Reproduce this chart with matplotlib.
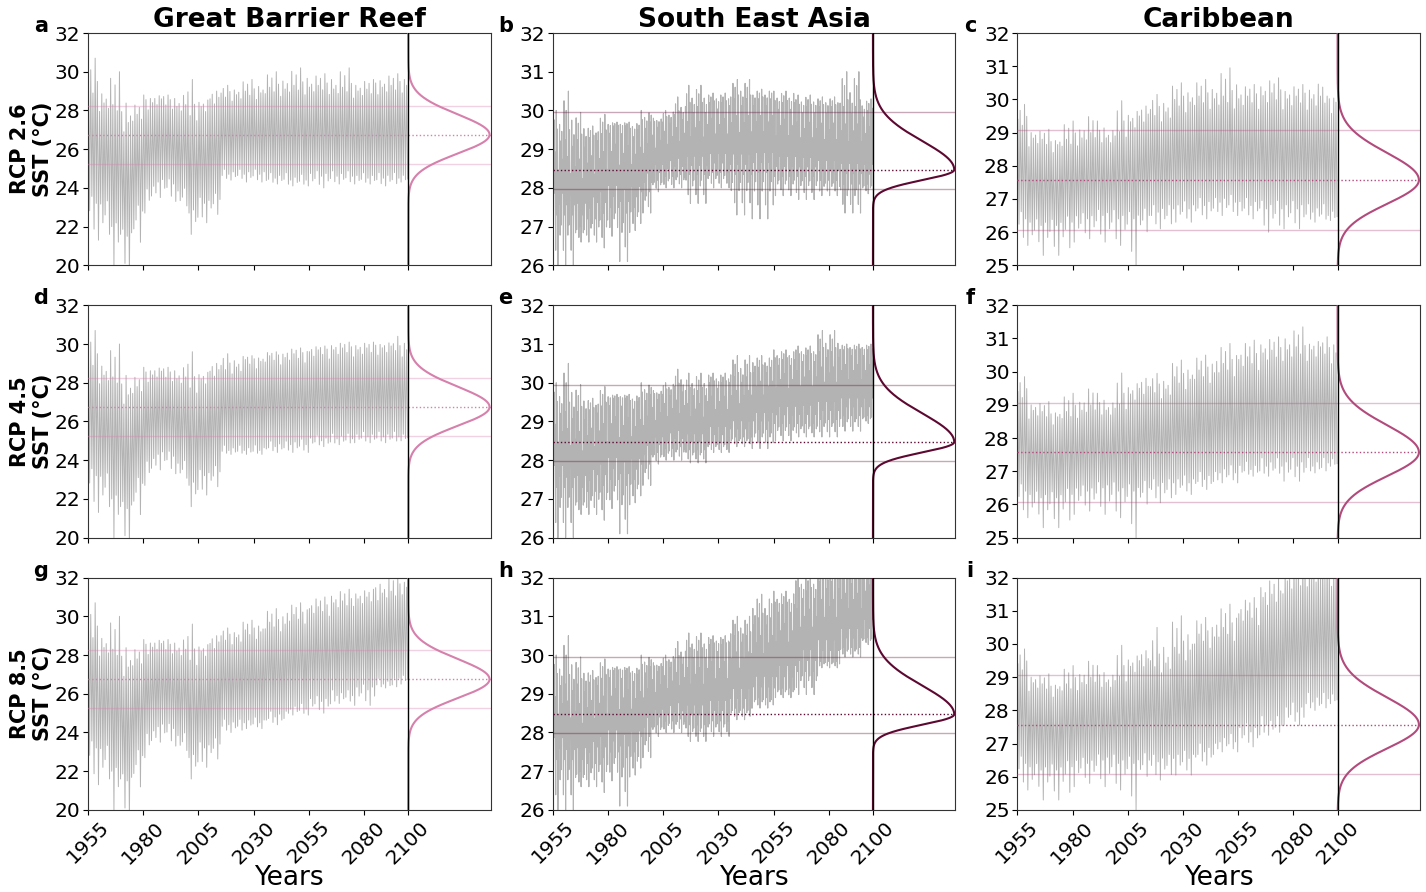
import numpy as np
import matplotlib
matplotlib.use("Agg")
import matplotlib.pyplot as plt

# ---- data ---------------------------------------------------------------
regions = ["Great Barrier Reef", "South East Asia", "Caribbean"]
scenarios = ["RCP 2.6", "RCP 4.5", "RCP 8.5"]
letters = ["a", "b", "c", "d", "e", "f", "g", "h", "i"]

# historical part (same in every scenario), 5-year blocks 1955..2010
hist_starts = [1955, 1960, 1965, 1970, 1975, 1980, 1985, 1990, 1995, 2000, 2005, 2010]
# projections, 10-year blocks 2015..2095
fut_starts = [2015, 2025, 2035, 2045, 2055, 2065, 2075, 2085, 2095]

# typical seasonal peak, highest spike, typical trough, deepest dip (deg C)
gbr_hist_peak   = [29.2, 28.5, 28.3, 27.5, 27.8, 28.5, 28.6, 28.5, 28.3, 28.0, 28.3, 28.6]
gbr_hist_spike  = [30.7, 29.4, 30.0, 29.7, 28.4, 28.8, 28.8, 28.8, 28.9, 29.6, 28.6, 29.0]
gbr_hist_trough = [23.2, 23.0, 22.0, 21.5, 22.8, 23.8, 24.3, 24.2, 23.7, 22.7, 23.2, 23.4]
gbr_hist_dip    = [21.3, 21.0, 20.0, 19.5, 20.5, 22.7, 23.5, 23.3, 22.8, 21.6, 22.2, 22.3]

sea_hist_peak   = [29.4, 29.25, 29.25, 29.3, 29.4, 29.6, 29.6, 29.5, 29.7, 29.7, 29.8, 29.9]
sea_hist_spike  = [30.0, 30.5, 29.95, 29.6, 29.9, 29.7, 29.7, 29.7, 30.0, 29.8, 30.0, 30.35]
sea_hist_trough = [27.3, 27.3, 27.0, 27.2, 27.35, 27.5, 27.35, 27.5, 27.9, 28.2, 28.3, 28.35]
sea_hist_dip    = [26.0, 26.0, 26.6, 26.6, 26.45, 26.75, 26.1, 26.9, 27.35, 27.9, 28.0, 28.0]

car_hist_peak   = [29.4, 28.9, 28.8, 28.7, 28.8, 28.9, 29.0, 29.0, 28.9, 29.2, 29.4, 29.5]
car_hist_spike  = [29.85, 29.15, 29.1, 28.85, 29.35, 29.35, 29.6, 29.35, 29.1, 29.96, 29.7, 29.8]
car_hist_trough = [26.4, 26.2, 26.2, 26.2, 26.3, 26.4, 26.4, 26.5, 26.5, 26.4, 26.4, 26.5]
car_hist_dip    = [25.6, 25.5, 25.3, 25.3, 25.2, 25.7, 25.8, 25.7, 25.5, 25.6, 25.0, 25.8]

gbr26_peak   = [28.9, 29.0, 29.2, 29.3, 29.3, 29.2, 29.1, 29.3, 29.4]
gbr26_spike  = [29.3, 29.6, 30.0, 30.2, 29.9, 30.2, 29.6, 29.9, 29.9]
gbr26_trough = [24.7, 24.7, 24.5, 24.4, 24.6, 24.6, 24.5, 24.5, 24.5]
gbr26_dip    = [24.4, 24.3, 24.2, 24.1, 24.0, 24.2, 24.2, 24.1, 24.3]

gbr45_peak   = [28.9, 29.2, 29.4, 29.5, 29.7, 29.8, 29.8, 29.9, 29.8]
gbr45_spike  = [29.5, 29.4, 29.6, 29.8, 29.9, 30.1, 30.1, 30.1, 30.4]
gbr45_trough = [24.5, 24.5, 24.7, 24.8, 25.0, 25.1, 25.2, 25.2, 25.2]
gbr45_dip    = [24.3, 24.3, 24.4, 24.4, 24.7, 24.8, 24.9, 24.9, 25.0]

gbr85_peak   = [29.0, 29.3, 29.7, 30.1, 30.5, 30.8, 31.0, 31.3, 31.6]
gbr85_spike  = [29.4, 29.8, 30.4, 30.7, 31.0, 31.4, 31.4, 32.2, 32.0]
gbr85_trough = [24.4, 24.5, 24.8, 25.2, 25.6, 25.9, 26.2, 26.5, 26.8]
gbr85_dip    = [24.0, 24.2, 24.4, 24.9, 25.0, 25.5, 25.4, 26.3, 26.5]

sea26_peak   = [30.1, 30.2, 30.3, 30.3, 30.2, 30.1, 30.1, 30.1, 30.0]
sea26_spike  = [30.65, 30.45, 30.8, 30.55, 30.5, 30.4, 30.35, 31.0, 30.3]
sea26_trough = [28.35, 28.4, 28.35, 28.4, 28.3, 28.3, 28.2, 28.1, 28.1]
sea26_dip    = [27.6, 28.0, 27.3, 27.2, 27.8, 27.7, 27.8, 27.35, 27.85]

sea45_peak   = [29.8, 30.0, 30.15, 30.4, 30.6, 30.7, 30.8, 30.85, 30.85]
sea45_spike  = [30.25, 30.25, 30.7, 30.7, 30.85, 30.95, 31.35, 31.0, 31.0]
sea45_trough = [28.27, 28.45, 28.6, 28.8, 28.95, 28.95, 29.05, 29.15, 29.15]
sea45_dip    = [27.93, 28.2, 28.35, 28.3, 28.5, 28.6, 28.6, 28.75, 28.95]

sea85_peak   = [30.1, 30.27, 30.5, 30.96, 31.3, 31.65, 31.9, 32.0, 32.2]
sea85_spike  = [30.57, 30.5, 31.0, 31.57, 31.65, 32.1, 32.4, 32.5, 32.5]
sea85_trough = [28.2, 28.3, 28.63, 28.9, 29.15, 29.58, 29.84, 30.2, 30.45]
sea85_dip    = [27.77, 27.9, 28.33, 28.63, 28.9, 28.98, 29.67, 29.95, 30.27]

car26_peak   = [29.7, 30.0, 30.1, 30.1, 30.1, 30.2, 30.1, 30.1, 30.0]
car26_spike  = [30.15, 30.5, 30.6, 30.95, 30.45, 30.65, 30.45, 30.55, 30.1]
car26_trough = [26.6, 26.7, 26.8, 26.9, 26.8, 26.7, 26.7, 26.6, 26.5]
car26_dip    = [26.1, 26.3, 26.4, 26.5, 26.4, 26.0, 26.1, 26.3, 26.35]

car45_peak   = [29.55, 29.85, 30.05, 30.25, 30.45, 30.65, 30.75, 30.75, 30.65]
car45_spike  = [29.95, 30.35, 30.5, 30.85, 30.95, 31.05, 31.35, 30.95, 31.05]
car45_trough = [26.55, 26.65, 26.75, 26.95, 27.05, 27.15, 27.15, 27.15, 27.25]
car45_dip    = [26.05, 26.3, 26.45, 26.65, 26.85, 26.85, 26.7, 26.95, 27.15]

car85_peak   = [29.5, 29.9, 30.3, 30.5, 31.0, 31.5, 32.0, 32.2, 32.2]
car85_spike  = [30.5, 30.85, 30.8, 31.2, 31.4, 32.0, 32.5, 32.6, 32.6]
car85_trough = [26.45, 26.55, 26.75, 27.05, 27.35, 27.55, 27.95, 28.25, 28.35]
car85_dip    = [25.9, 26.05, 26.35, 26.75, 26.9, 27.25, 27.55, 28.0, 28.2]

# baseline distribution shown at the right of each panel
dist_mode = [26.75, 28.47, 27.57]
dist_sd_low = [0.98, 0.27, 0.72]
dist_sd_high = [1.05, 0.74, 0.82]
band_low = [25.25, 27.98, 26.07]
band_high = [28.25, 29.95, 29.07]
curve_colors = ["#d680ac", "#5c0830", "#b24a7c"]
ylims = [(20, 32), (26, 32), (25, 32)]
ysteps = [2, 1, 1]
cycles_per_year = [1, 2, 1]
jitter = [0.10, 0.45, 0.12]   # how much weak cycles fall short, share of band
line_w = [0.7, 0.8, 0.7]

# -------------------------------------------------------------------------
hist = {
    0: (gbr_hist_peak, gbr_hist_spike, gbr_hist_trough, gbr_hist_dip),
    1: (sea_hist_peak, sea_hist_spike, sea_hist_trough, sea_hist_dip),
    2: (car_hist_peak, car_hist_spike, car_hist_trough, car_hist_dip),
}
fut = {
    (0, 0): (gbr26_peak, gbr26_spike, gbr26_trough, gbr26_dip),
    (1, 0): (gbr45_peak, gbr45_spike, gbr45_trough, gbr45_dip),
    (2, 0): (gbr85_peak, gbr85_spike, gbr85_trough, gbr85_dip),
    (0, 1): (sea26_peak, sea26_spike, sea26_trough, sea26_dip),
    (1, 1): (sea45_peak, sea45_spike, sea45_trough, sea45_dip),
    (2, 1): (sea85_peak, sea85_spike, sea85_trough, sea85_dip),
    (0, 2): (car26_peak, car26_spike, car26_trough, car26_dip),
    (1, 2): (car45_peak, car45_spike, car45_trough, car45_dip),
    (2, 2): (car85_peak, car85_spike, car85_trough, car85_dip),
}

# >0: share of the way to the block's spike/dip, <0: falls short of it
PEAK_W = [0.0, 0.6, -0.5, 1.0, 0.2, -1.0, 0.4, -0.2, 0.1, -0.7, 0.8]
TROUGH_W = [0.2, -0.6, 0.7, 0.0, 1.0, -0.3, 0.4]


def build_series(starts, blocks, per_year, jit, end):
    peak, spike, trough, dip = blocks
    edges = list(starts) + [end]
    t, v = [], []
    n = 0
    for i in range(len(starts)):
        band = peak[i] - trough[i]
        yr = edges[i]
        while yr < edges[i + 1]:
            for c in range(per_year):
                t0 = yr + c / per_year
                wp = PEAK_W[n % len(PEAK_W)]
                wt = TROUGH_W[n % len(TROUGH_W)]
                hi = peak[i] + (wp * (spike[i] - peak[i]) if wp >= 0 else wp * jit * band)
                lo = trough[i] + (wt * (dip[i] - trough[i]) if wt >= 0 else -wt * jit * band)
                t += [t0 + 0.25 / per_year, t0 + 0.75 / per_year]
                v += [hi, lo]
                n += 1
            yr += 1
    return t, v


XMAX = 2137.3
fig, axes = plt.subplots(3, 3, figsize=(14.26, 8.92), dpi=100)
plt.subplots_adjust(left=0.0617, right=0.9958, top=0.963, bottom=0.092,
                    wspace=0.154, hspace=0.172)

for r in range(3):
    for c in range(3):
        ax = axes[r, c]
        t1, v1 = build_series(hist_starts, hist[c], cycles_per_year[c], jitter[c], 2015)
        t2, v2 = build_series(fut_starts, fut[(r, c)], cycles_per_year[c], jitter[c], 2100)
        ax.plot(t1 + t2, v1 + v2, color="#b3b3b3", lw=line_w[c], zorder=2)

        col = curve_colors[c]
        ax.axhline(dist_mode[c], color=col, ls=":", lw=1.0, zorder=3)
        ax.axhline(band_low[c], color=col, alpha=0.35, lw=1.0, zorder=3)
        ax.axhline(band_high[c], color=col, alpha=0.35, lw=1.0, zorder=3)

        yy = np.linspace(ylims[c][0], ylims[c][1], 600)
        sd = np.where(yy < dist_mode[c], dist_sd_low[c], dist_sd_high[c])
        dens = np.exp(-0.5 * ((yy - dist_mode[c]) / sd) ** 2)
        ax.plot(2100 + dens * 36.8, yy, color=col, lw=1.5, zorder=4)
        ax.axvline(2100, color="k", lw=1.0, zorder=5)

        ax.set_xlim(1955, XMAX)
        ax.set_ylim(*ylims[c])
        ax.set_yticks(np.arange(ylims[c][0], ylims[c][1] + 0.1, ysteps[c]))
        ax.set_xticks([1955, 1980, 2005, 2030, 2055, 2080, 2100])
        ax.tick_params(labelsize=14.5, length=3.5, pad=2)
        if r == 2:
            ax.set_xticklabels(["1955", "1980", "2005", "2030", "2055", "2080", "2100"],
                               rotation=45)
            ax.set_xlabel("Years", fontsize=19, labelpad=-2)
        else:
            ax.set_xticklabels([])
        if r == 0:
            ax.set_title(regions[c], fontsize=19, fontweight="bold", pad=1)
        if c == 0:
            ax.set_ylabel(scenarios[r] + "\nSST (°C)", fontsize=15,
                          fontweight="bold", labelpad=1)
        ax.text(-0.117, 1.03, letters[r * 3 + c], transform=ax.transAxes,
                fontsize=15, fontweight="bold", ha="center", va="center")
        for s in ax.spines.values():
            s.set_color("#333333")

fig.savefig("out.png", dpi=100)
